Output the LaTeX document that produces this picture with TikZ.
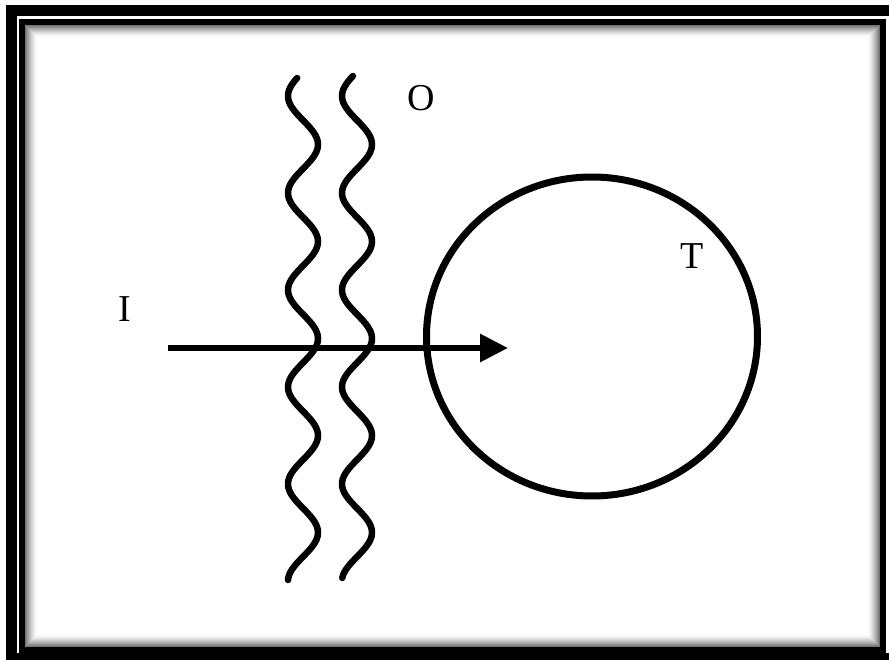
\documentclass[tikz,border=0pt]{standalone}
\usepackage{fontspec}
\setmainfont{Liberation Serif}
\usetikzlibrary{arrows.meta}
\tikzset{
  lbl/.style={inner sep=0pt, font=\fontsize{38}{38}\selectfont},
  wave/.style={line width=6.5pt, line cap=round},
  ray/.style={line width=6pt, -{Triangle[length=28pt,width=27pt]}},
  target/.style={line width=7pt},
}
\begin{document}
\begin{tikzpicture}[x=1pt,y=-1pt]
\useasboundingbox (0,0) rectangle (889,660);
\clip (0,0) rectangle (889,660);
\fill[white] (0,0) rectangle (889,660);
% outer thick frame
\draw[line width=11pt] (11,10.5) rectangle (930,658.5);
% inner frame
\draw[line width=6pt] (22,22) rectangle (883,649.5);
% inner shadow
\foreach \k in {0,...,11}{
  \pgfmathsetmacro{\shade}{55*(1-\k/12)^1.5}
  \draw[line width=1.05pt, draw=black!\shade] (25.5+\k,25.5+\k) rectangle (879.5-\k,646-\k);
}
% waves
\draw[wave] plot[domain=78:580, samples=240] ({303-15*cos(3.71134*(\x-96))}, \x);
\draw[wave] plot[domain=76:578, samples=240] ({357-15*cos(3.71134*(\x-96))}, \x);
% target circle
\draw[target] (592,336.5) ellipse [x radius=165.5, y radius=159.5];
% labels
\node[lbl] (I) at (125,309) {I};
\node[lbl] (O) at (421,98.5) {O};
\node[lbl] (T) at (692,256) {T};
% ray
\coordinate (start) at (168,348);
\coordinate (tip) at (508,348);
\draw[ray] (start) -- (tip);
\end{tikzpicture}
\end{document}
